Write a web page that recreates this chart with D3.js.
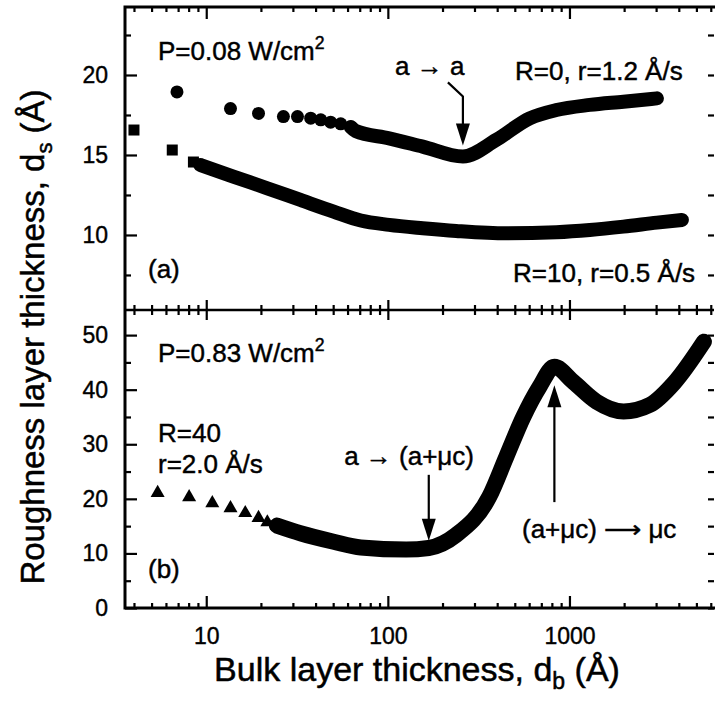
<!DOCTYPE html>
<html>
<head>
<meta charset="utf-8">
<script src="https://cdn.jsdelivr.net/npm/d3@7"></script>
<style>
  html, body { margin: 0; padding: 0; background: #fff; }
  svg { display: block; }
  text { font-family: "Liberation Sans", Arial, Helvetica, sans-serif; fill: #000; }
</style>
</head>
<body>
<svg id="chart" width="715" height="702"></svg>
<script>
// ---- data ----
// panel (a), R=0 (circles): separate points, then the dense band
const circlePts = [[6.9, 18.94], [13.6, 17.9], [19.4, 17.6], [26.6, 17.4], [31.8, 17.4],
  [37.6, 17.3], [42.7, 17.2], [48.4, 17.05], [55, 16.95], [62.5, 16.75]];
const circleBand = [[62.5, 16.75], [66.5, 16.5], [101.6, 16.04], [155.6, 15.52], [259, 14.9],
  [395, 15.94], [604, 17.29], [847, 17.81], [1294, 18.13], [1982, 18.33], [3030, 18.54]];

// panel (a), R=10 (squares)
const squarePts = [[4.0, 16.56], [6.5, 15.31], [8.5, 14.56]];
const squareBand = [[9.27, 14.38], [14.1, 13.65], [21.7, 12.92], [33, 12.19], [50.3, 11.46],
  [71, 10.9], [101.6, 10.63], [155.6, 10.42], [238, 10.25], [449, 10.1], [847, 10.17],
  [1294, 10.31], [1982, 10.52], [3030, 10.77], [4160, 10.94]];

// panel (b), R=40 (triangles)
const trianglePts = [[5.4, 21.1], [8.05, 20.3], [10.8, 19.2], [13.6, 18.3], [16.4, 17.4],
  [19.4, 16.5], [21.7, 15.7], [24.5, 15.1]];
const triangleBand = [[24.5, 15.1], [33, 13.7], [50.3, 12.15], [71, 11.1], [126, 10.7],
  [168, 11.0], [238, 13.4], [362, 20.4], [449, 27.7], [557, 35.0], [683, 40.5], [826, 44.2],
  [1052, 41.4], [1410, 37.8], [1987, 36.0], [2770, 37.2], [3760, 41.2], [5500, 48.8]];

const xMajor = [10, 100, 1000];
const xMinor = [4, 5, 6, 7, 8, 9, 20, 30, 40, 50, 60, 70, 80, 90,
  200, 300, 400, 500, 600, 700, 800, 900, 2000, 3000, 4000, 5000, 6000];
const yTopMajor = [10, 15, 20];
const yTopMinor = [7.5, 12.5, 17.5, 22.5];
const yBotMajor = [0, 10, 20, 30, 40, 50];
const yBotMinor = [5, 15, 25, 35, 45];

// ---- layout ----
const L = 125, R = 714, T = 7, MID = 310, B = 608;
const svg = d3.select("#chart");

const x = d3.scaleLog().domain([3.57, 6250]).range([L, R]);
const yTop = d3.scaleLinear().domain([5.31, 24.25]).range([MID, T]);
const yBot = d3.scaleLinear().domain([0, 54.6]).range([B, MID]);

function styleAxis(g) {
  g.select(".domain").remove();
  g.selectAll("line").attr("stroke", "#000").attr("stroke-width", 2.2);
  g.selectAll("text").attr("font-size", 23).attr("fill", "#000")
    .style("font-family", "'Liberation Sans', Arial, sans-serif")
    .attr("stroke", "#000").attr("stroke-width", 0.4);
}

// x ticks: bottom frame (labelled), top frame, divider both ways
svg.append("g").attr("transform", `translate(0,${B})`)
  .call(d3.axisBottom(x).tickValues(xMinor).tickSize(-5).tickFormat("")).call(styleAxis);
svg.append("g").attr("transform", `translate(0,${B})`)
  .call(d3.axisBottom(x).tickValues(xMajor).tickSize(-12).tickPadding(20).tickFormat(d3.format("d")))
  .call(styleAxis);
svg.append("g").attr("transform", `translate(0,${T})`)
  .call(d3.axisTop(x).tickValues(xMinor).tickSize(-5).tickFormat("")).call(styleAxis);
svg.append("g").attr("transform", `translate(0,${T})`)
  .call(d3.axisTop(x).tickValues(xMajor).tickSize(-12).tickFormat("")).call(styleAxis);
[-1, 1].forEach(s => {
  svg.append("g").attr("transform", `translate(0,${MID})`)
    .call(d3.axisTop(x).tickValues(xMinor).tickSize(5 * s).tickFormat("")).call(styleAxis);
  svg.append("g").attr("transform", `translate(0,${MID})`)
    .call(d3.axisTop(x).tickValues(xMajor).tickSize(10 * s).tickFormat("")).call(styleAxis);
});

// y ticks left (labelled) and right
function yTicks(scale, major, minor) {
  svg.append("g").attr("transform", `translate(${L},0)`)
    .call(d3.axisLeft(scale).tickValues(minor).tickSize(-6).tickFormat("")).call(styleAxis);
  svg.append("g").attr("transform", `translate(${L},0)`)
    .call(d3.axisLeft(scale).tickValues(major).tickSize(-12).tickPadding(17).tickFormat(d3.format("d")))
    .call(styleAxis);
  svg.append("g").attr("transform", `translate(${R},0)`)
    .call(d3.axisRight(scale).tickValues(major.concat(minor)).tickSize(-6).tickFormat("")).call(styleAxis);
}
yTicks(yTop, yTopMajor, yTopMinor);
yTicks(yBot, yBotMajor, yBotMinor);

// frame
svg.append("rect").attr("x", L).attr("y", T).attr("width", R - L + 4).attr("height", B - T)
  .attr("fill", "none").attr("stroke", "#000").attr("stroke-width", 3);
svg.append("line").attr("x1", L).attr("x2", R).attr("y1", MID).attr("y2", MID)
  .attr("stroke", "#000").attr("stroke-width", 2.5);

// ---- data marks ----
function band(data, ys, w) {
  svg.append("path").datum(data)
    .attr("fill", "none").attr("stroke", "#000").attr("stroke-width", w)
    .attr("stroke-linecap", "round").attr("stroke-linejoin", "round")
    .attr("d", d3.line().x(d => x(d[0])).y(d => ys(d[1])).curve(d3.curveMonotoneX));
}
band(circleBand, yTop, 14);
band(squareBand, yTop, 14);
band(triangleBand, yBot, 16);

svg.selectAll(".circ").data(circlePts).enter().append("circle")
  .attr("cx", d => x(d[0])).attr("cy", d => yTop(d[1])).attr("r", 6.5).attr("fill", "#000");
svg.selectAll(".sq").data(squarePts).enter().append("rect")
  .attr("x", d => x(d[0]) - 5.5).attr("y", d => yTop(d[1]) - 5.5)
  .attr("width", 11).attr("height", 11).attr("fill", "#000");
svg.selectAll(".tri").data(trianglePts).enter().append("path")
  .attr("transform", d => `translate(${x(d[0])},${yBot(d[1])})`)
  .attr("d", d3.symbol().type(d3.symbolTriangle).size(85)).attr("fill", "#000");

// ---- annotation arrows ----
function arrowHead(tx, ty, dir) {
  // dir = +1 pointing down, -1 pointing up
  svg.append("path")
    .attr("d", `M${tx},${ty} L${tx - 7},${ty - 22 * dir} L${tx + 7},${ty - 22 * dir} Z`)
    .attr("fill", "#000");
}
const aTipX = x(259), aTipY = yTop(15.6);
svg.append("polyline")
  .attr("points", `${aTipX - 15},${aTipY - 63} ${aTipX},${aTipY - 49} ${aTipX},${aTipY - 18}`)
  .attr("fill", "none").attr("stroke", "#000").attr("stroke-width", 2.2);
arrowHead(aTipX, aTipY, 1);

const bTipX = x(168), bTipY = yBot(12.3);
svg.append("line").attr("x1", bTipX).attr("x2", bTipX).attr("y1", yBot(24.4)).attr("y2", bTipY - 18)
  .attr("stroke", "#000").attr("stroke-width", 2.2);
arrowHead(bTipX, bTipY, 1);

const cTipX = x(826), cTipY = yBot(40.8);
svg.append("line").attr("x1", cTipX).attr("x2", cTipX).attr("y1", yBot(19.4)).attr("y2", cTipY + 18)
  .attr("stroke", "#000").attr("stroke-width", 2.2);
arrowHead(cTipX, cTipY, -1);

// ---- text ----
function label(px, py, parts, size, anchor) {
  const t = svg.append("text").attr("x", px).attr("y", py).attr("font-size", size)
    .attr("text-anchor", anchor || "start")
    .attr("stroke", "#000").attr("stroke-width", 0.45);
  parts.forEach(p => {
    const sp = t.append("tspan").text(p[0]);
    if (p[1]) sp.attr("dy", p[1]).attr("font-size", size * 0.68);
  });
  return t;
}
const fs = 26;
label(158, 60, [["P=0.08 W/cm"], ["2", -11]], fs);
label(395, 75, [["a \u2192 a"]], fs);
label(515, 80, [["R=0, r=1.2 \u00c5/s"]], fs);
label(148, 278, [["(a)"]], fs);
label(513, 282, [["R=10, r=0.5 \u00c5/s"]], fs);

label(158, 362, [["P=0.83 W/cm"], ["2", -11]], fs);
label(158, 442, [["R=40"]], fs);
label(158, 473, [["r=2.0 \u00c5/s"]], fs);
label(474, 465, [["a \u2192 (a+\u03bcc)"]], fs, "end");
label(522, 538, [["(a+\u03bcc) \u27f6 \u03bcc"]], fs);
label(148, 578, [["(b)"]], fs);

// axis titles
const xt = svg.append("text").attr("x", 417).attr("y", 681).attr("font-size", 34)
  .attr("text-anchor", "middle").attr("stroke", "#000").attr("stroke-width", 0.5);
xt.append("tspan").text("Bulk layer thickness, d");
xt.append("tspan").text("b").attr("dy", 8).attr("font-size", 23);
xt.append("tspan").text(" (\u00c5)").attr("dy", -8);

const yt = svg.append("text").attr("transform", "translate(44,337) rotate(-90)").attr("font-size", 33)
  .attr("text-anchor", "middle").attr("stroke", "#000").attr("stroke-width", 0.5);
yt.append("tspan").text("Roughness layer thickness, d");
yt.append("tspan").text("s").attr("dy", 8).attr("font-size", 22);
yt.append("tspan").text(" (\u00c5)").attr("dy", -8);
</script>
</body>
</html>
